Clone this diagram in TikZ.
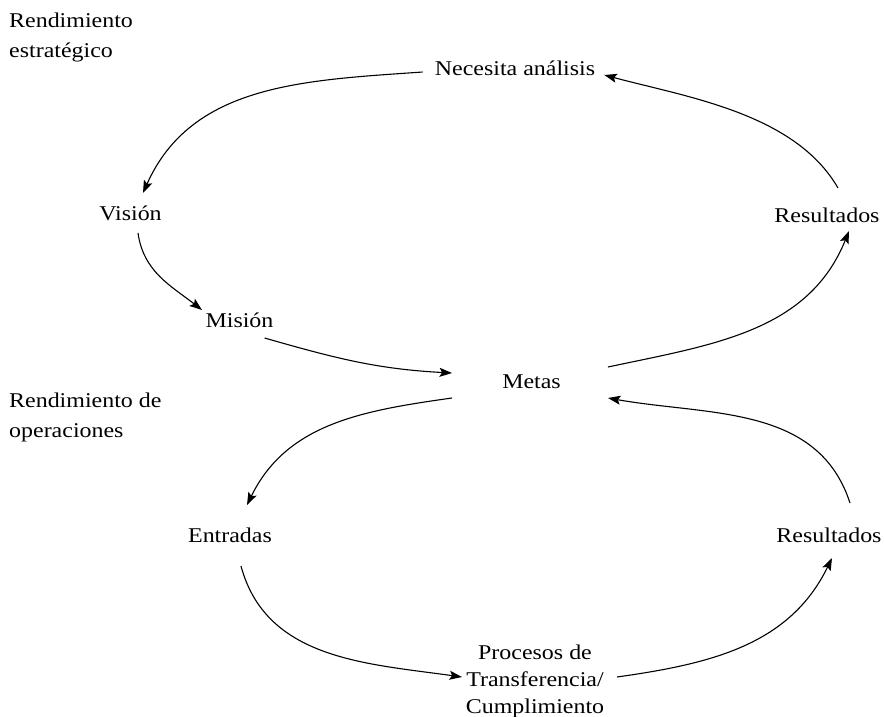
\documentclass[tikz,border=0pt]{standalone}
\usepackage{fontspec}
\setmainfont{Liberation Serif}[FakeStretch=1.14]
\usetikzlibrary{arrows.meta}
\begin{document}
\begin{tikzpicture}[x=1pt,y=1pt,
  lab/.style={inner sep=0pt,font=\fontsize{21}{27}\selectfont},
  side/.style={inner sep=0pt,font=\fontsize{21}{30}\selectfont,anchor=base west},
  flow/.style={line width=1.1pt,-{Stealth[length=12.5pt,width=9pt,inset=2.5pt]}}]
\fill[white] (0,0) rectangle (884,-716);
\useasboundingbox (0,0) rectangle (884,-716);

% section captions
\node[side] (cs) at (9,-27) {\begin{tabular}[t]{@{}l@{}}Rendimiento\\estratégico\end{tabular}};
\node[side] (co) at (9,-407) {\begin{tabular}[t]{@{}l@{}}Rendimiento de\\operaciones\end{tabular}};

% strategic cycle
\node[lab,anchor=base] (nec) at (515,-75) {Necesita análisis};
\node[lab,anchor=base] (vis) at (130.5,-220) {Visión};
\node[lab,anchor=base] (res1) at (827,-222) {Resultados};
\node[lab,anchor=base] (mis) at (239.5,-327) {Misión};
\node[lab,anchor=base] (met) at (531.5,-388) {Metas};

% operational cycle
\node[lab,anchor=base] (ent) at (230,-542) {Entradas};
\node[lab,anchor=base] (res2) at (829,-542) {Resultados};
\node[lab,anchor=base] (proc) at (535,-659) {\begin{tabular}[t]{@{}c@{}}Procesos de\\Transferencia/\\Cumplimiento\end{tabular}};

% strategic connectors
\draw[flow] ([shift={(-12,3)}]nec.base west) to[out=184,in=66] ([shift={(12.5,27)}]vis.base);
\draw[flow] ([shift={(7.5,-13)}]vis.base) to[out=278,in=142] ([shift={(-37.5,17)}]mis.base);
\draw[flow] ([shift={(-9,-11)}]mis.base east) to[out=344,in=177] ([shift={(-50,15)}]met.base west);
\draw[flow] ([shift={(47,21)}]met.base east) to[out=12,in=248] ([shift={(22,-9)}]res1.base);
\draw[flow] ([shift={(11,34)}]res1.base) to[out=120,in=345,looseness=0.85] ([shift={(9,0)}]nec.base east);

% operational connectors
\draw[flow] ([shift={(-50,-10)}]met.base west) to[out=188,in=64] ([shift={(17,37)}]ent.base);
\draw[flow] ([shift={(11,-24)}]ent.base) to[out=285,in=172] ([shift={(-73,-18)}]proc.base);
\draw[flow] ([shift={(82,-18)}]proc.base) to[out=8,in=244] ([shift={(3,-16)}]res2.base);
\draw[flow] ([shift={(21,39)}]res2.base) to[out=108,in=350] ([shift={(47,-10)}]met.base east);
\end{tikzpicture}
\end{document}
